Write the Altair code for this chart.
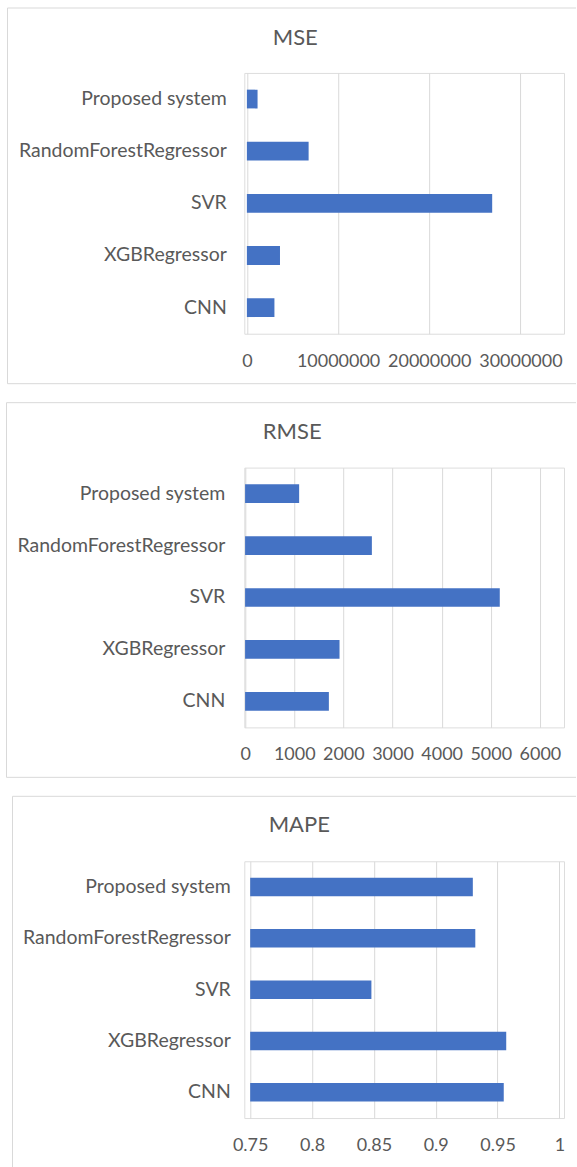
import altair as alt
import pandas as pd

categories = ["Proposed system", "RandomForestRegressor", "SVR", "XGBRegressor", "CNN"]
mse = [1170000, 6770000, 26900000, 3630000, 3020000]
rmse = [1100, 2580, 5183, 1922, 1705]
mape = [0.930, 0.932, 0.848, 0.957, 0.955]

mse_ticks = [0, 10000000, 20000000, 30000000]
rmse_ticks = [0, 1000, 2000, 3000, 4000, 5000, 6000]
mape_ticks = [0.75, 0.8, 0.85, 0.9, 0.95, 1.0]

FONT = "Lato"
TXT = "#595959"
GRID = "#d9d9d9"
BAR = "#4472C4"
W = 320

one = pd.DataFrame({"k": [0]})


def panel(title, values, ticks, fmt, xrange, height, ylab_pad, title_xy, frame):
    df = pd.DataFrame({"model": categories, "value": values})
    bars = alt.Chart(df).mark_bar(color=BAR).encode(
        y=alt.Y(
            "model:N",
            sort=categories,
            title=None,
            scale=alt.Scale(paddingInner=0.64, paddingOuter=0.32),
            axis=alt.Axis(
                domain=False, ticks=False, grid=False, labelFont=FONT,
                labelFontSize=19.5, labelColor=TXT, labelPadding=ylab_pad,
                labelLimit=400,
            ),
        ),
        x=alt.X(
            "value:Q",
            title=None,
            scale=alt.Scale(domain=[ticks[0], ticks[-1]], range=xrange, nice=False, zero=False),
            axis=alt.Axis(
                values=ticks, format=fmt, domain=False, ticks=False, grid=True,
                gridColor=GRID, gridWidth=1, labelFont=FONT, labelFontSize=18,
                labelColor=TXT, labelPadding=18.5, labelFlush=False, labelOverlap=False,
            ),
        ),
        x2=alt.datum(ticks[0]),
    )
    ttl = alt.Chart(one).mark_text(
        text=title, font=FONT, fontSize=22, color=TXT, align="center", baseline="middle"
    ).encode(x=alt.value(title_xy[0]), y=alt.value(title_xy[1]))
    left, top, right, bottom = frame
    layers = [bars, ttl]
    rule_y2 = bottom if bottom is not None else 320
    layers.append(
        alt.Chart(one).mark_rule(color=GRID, strokeWidth=1).encode(
            x=alt.value(left), y=alt.value(top), y2=alt.value(rule_y2)
        )
    )
    layers.append(
        alt.Chart(one).mark_rule(color=GRID, strokeWidth=1).encode(
            x=alt.value(left), x2=alt.value(right), y=alt.value(top)
        )
    )
    if bottom is not None:
        layers.append(
            alt.Chart(one).mark_rule(color=GRID, strokeWidth=1).encode(
                x=alt.value(left), x2=alt.value(right), y=alt.value(bottom)
            )
        )
    return alt.layer(*layers).properties(width=W, height=height)


p1 = panel("MSE", mse, mse_ticks, "d", [2.6, 276.4], 261, 18, (51, -35), (-237, -65, 332, 311))
p2 = panel("RMSE", rmse, rmse_ticks, "d", [0.8, 295.9], 260, 19.5, (48, -36), (-238, -65, 332, 310))
p3 = panel("MAPE", mape, mape_ticks, "~g", [5.9, 315.4], 257, 14, (55, -36), (-232, -65, 332, None))

chart = (
    alt.vconcat(p1, p2, p3, spacing=134, bounds="flush")
    .properties(padding={"left": 5.5, "top": 6.5, "right": 0, "bottom": 0})
    .configure_view(strokeWidth=0)
    .configure(font=FONT)
)

chart.save("out.html", embed_options={"renderer": "svg", "actions": False})
